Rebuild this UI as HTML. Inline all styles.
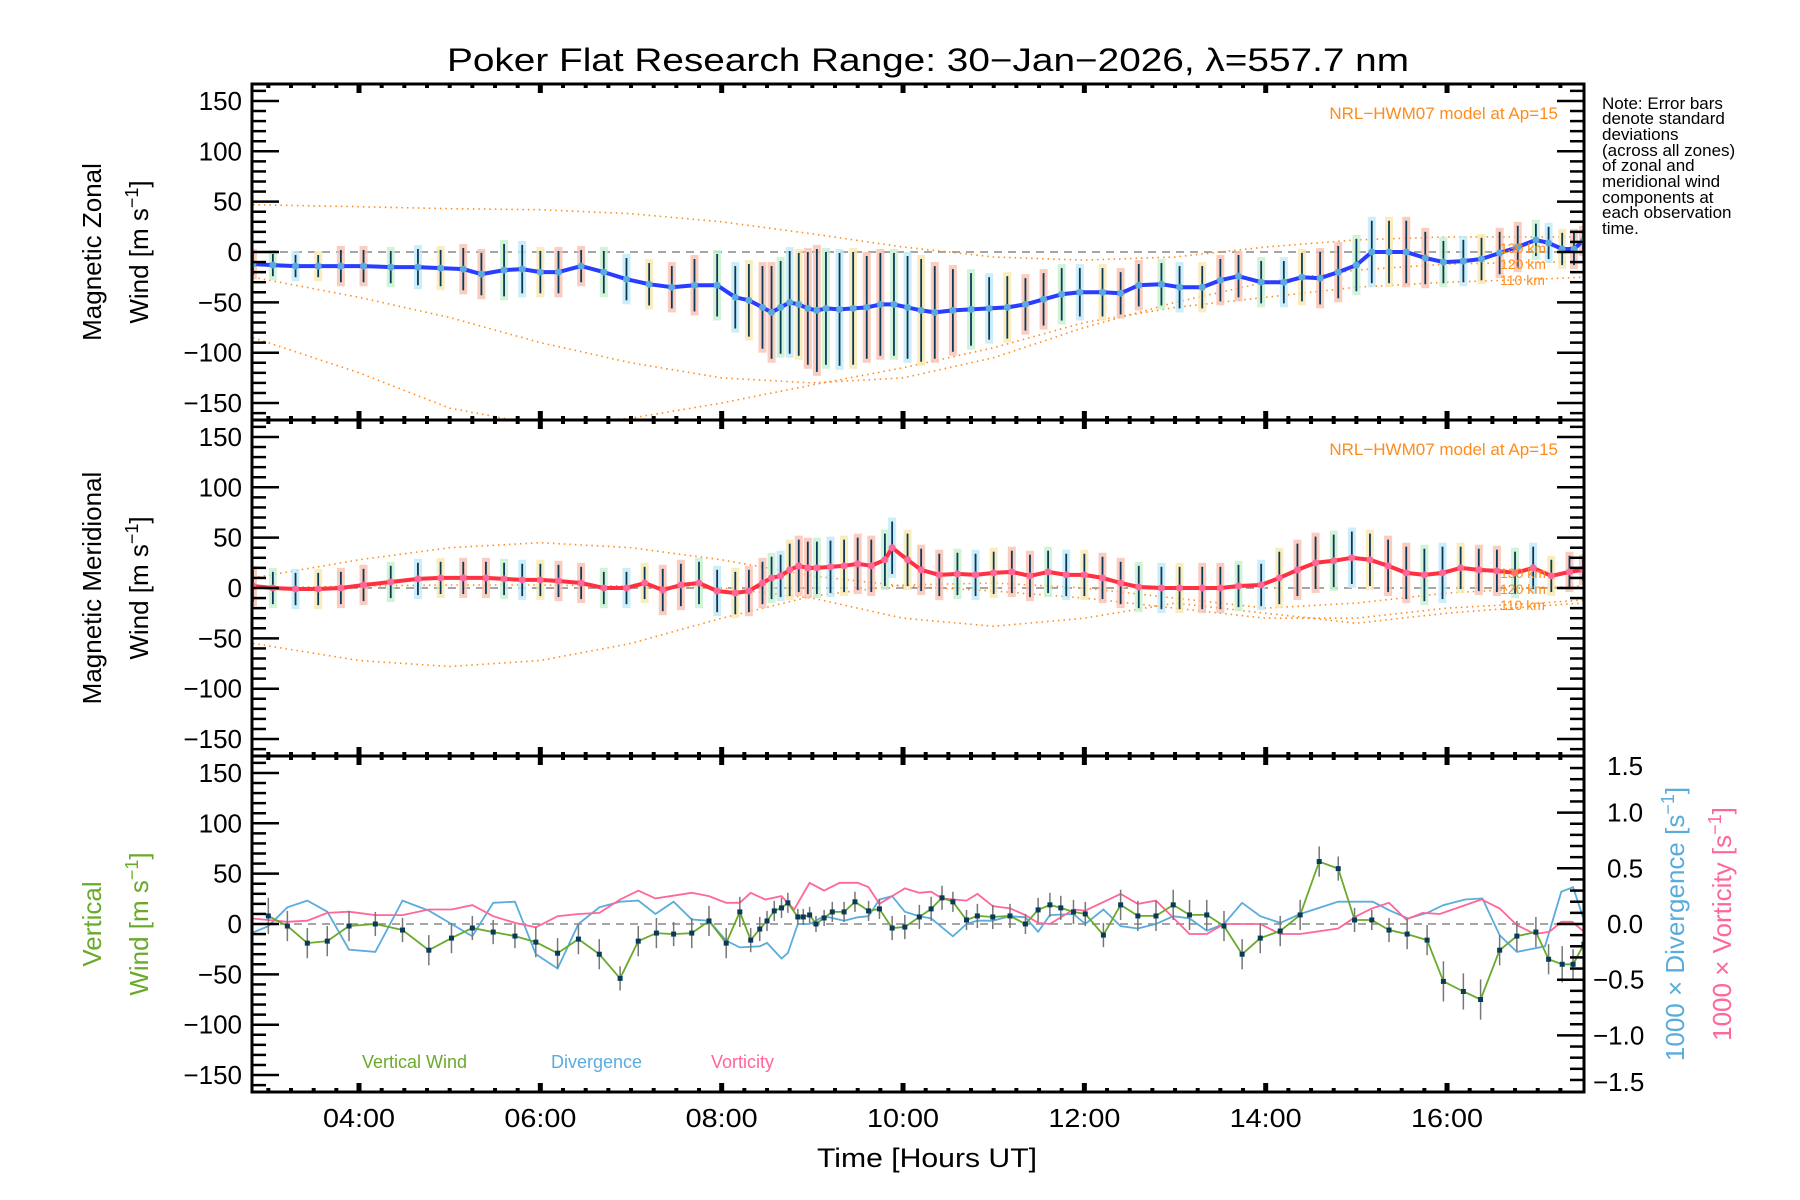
<!DOCTYPE html>
<html><head><meta charset="utf-8">
<style>
html,body{margin:0;padding:0;background:#fff;}
svg{display:block;font-family:"Liberation Sans",sans-serif;}
</style></head>
<body>
<svg id="chart" width="1800" height="1200" viewBox="0 0 1800 1200" xmlns="http://www.w3.org/2000/svg">
<rect x="0" y="0" width="1800" height="1200" fill="#fff"/>
<text x="447" y="71" font-size="32" textLength="962" lengthAdjust="spacingAndGlyphs" fill="#000">Poker Flat Research Range: 30−Jan−2026, λ=557.7 nm</text>
<g id="layer"></g>
<g font-size="17" fill="#000">
<text x="1602" y="109">Note: Error bars</text>
<text x="1602" y="124">denote standard</text>
<text x="1602" y="140">deviations</text>
<text x="1602" y="156">(across all zones)</text>
<text x="1602" y="171">of zonal and</text>
<text x="1602" y="187">meridional wind</text>
<text x="1602" y="203">components at</text>
<text x="1602" y="218">each observation</text>
<text x="1602" y="234">time.</text>
</g>
<text x="1558" y="119" font-size="17" fill="#ff8c1a" text-anchor="end">NRL−HWM07 model at Ap=15</text>
<text x="1558" y="455" font-size="17" fill="#ff8c1a" text-anchor="end">NRL−HWM07 model at Ap=15</text>
<g font-size="14" fill="#ff8c1a">
<text x="1500" y="253">130 km</text><text x="1500" y="269">120 km</text><text x="1500" y="285">110 km</text>
</g>
<g font-size="14" fill="#ff8c1a">
<text x="1500" y="578">130 km</text><text x="1500" y="594">120 km</text><text x="1500" y="610">110 km</text>
</g>
<g font-size="26" fill="#000" text-anchor="middle">
<text transform="translate(101,252) rotate(-90)">Magnetic Zonal</text>
<text transform="translate(148,252) rotate(-90)">Wind [m s<tspan dy="-10" font-size="18">−1</tspan><tspan dy="10">]</tspan></text>
</g>
<g font-size="26" fill="#000" text-anchor="middle">
<text transform="translate(101,588) rotate(-90)">Magnetic Meridional</text>
<text transform="translate(148,588) rotate(-90)">Wind [m s<tspan dy="-10" font-size="18">−1</tspan><tspan dy="10">]</tspan></text>
</g>
<g font-size="26" fill="#6aaa2a" text-anchor="middle">
<text transform="translate(101,924) rotate(-90)">Vertical</text>
<text transform="translate(148,924) rotate(-90)">Wind [m s<tspan dy="-10" font-size="18">−1</tspan><tspan dy="10">]</tspan></text>
</g>
<text transform="translate(1684,924) rotate(-90)" font-size="26" fill="#5aacdc" text-anchor="middle">1000 × Divergence [s<tspan dy="-10" font-size="18">−1</tspan><tspan dy="10">]</tspan></text>
<text transform="translate(1731,924) rotate(-90)" font-size="26" fill="#ff6699" text-anchor="middle">1000 × Vorticity [s<tspan dy="-10" font-size="18">−1</tspan><tspan dy="10">]</tspan></text>
<text x="817" y="1167" font-size="27" textLength="220" lengthAdjust="spacingAndGlyphs" fill="#000">Time [Hours UT]</text>
<text x="362" y="1068" font-size="18" fill="#6aaa2a">Vertical Wind</text>
<text x="551" y="1068" font-size="18" fill="#5aacdc">Divergence</text>
<text x="711" y="1068" font-size="18" fill="#ff6699">Vorticity</text>
</svg>
<script>
// ---- data ----
const zonalTimes=[2.83,3.05,3.3,3.55,3.8,4.05,4.35,4.65,4.9,5.15,5.35,5.6,5.8,6.0,6.2,6.45,6.7,6.95,7.2,7.45,7.7,7.95,8.15,8.3,8.45,8.55,8.65,8.75,8.85,8.95,9.05,9.15,9.3,9.45,9.6,9.75,9.9,10.05,10.2,10.35,10.55,10.75,10.95,11.15,11.35,11.55,11.75,11.95,12.2,12.4,12.6,12.85,13.05,13.3,13.5,13.7,13.95,14.2,14.4,14.6,14.8,15.0,15.17,15.36,15.55,15.76,15.96,16.18,16.38,16.58,16.78,16.98,17.12,17.27,17.4,17.5];
const zonalValues=[-12,-13,-14,-14,-14,-14,-15,-15,-16,-17,-22,-18,-17,-20,-20,-14,-20,-27,-32,-35,-33,-33,-45,-48,-55,-60,-55,-50,-52,-56,-58,-56,-57,-56,-55,-52,-52,-55,-58,-60,-58,-57,-56,-55,-52,-47,-42,-40,-40,-41,-33,-32,-35,-35,-28,-24,-30,-30,-25,-26,-20,-13,0,0,0,-6,-10,-9,-7,-1,5,12,9,3,3,11];
const zonalStd=[15,15,15,15,20,20,20,22,22,25,25,30,28,25,25,20,25,25,25,25,30,35,35,40,45,50,50,55,55,60,65,60,60,60,55,55,55,55,55,50,45,40,35,35,30,30,30,28,28,25,25,25,25,25,25,25,25,25,28,30,30,30,35,35,35,30,25,25,25,25,25,20,20,20,20,15];
const meridTimes=[2.83,3.05,3.3,3.55,3.8,4.05,4.35,4.65,4.9,5.15,5.4,5.6,5.8,6.0,6.2,6.45,6.7,6.95,7.15,7.35,7.55,7.75,7.95,8.15,8.3,8.45,8.55,8.65,8.75,8.85,8.95,9.05,9.2,9.35,9.5,9.65,9.8,9.88,10.05,10.2,10.4,10.6,10.8,11.0,11.2,11.4,11.6,11.8,12.0,12.2,12.4,12.6,12.85,13.05,13.3,13.5,13.7,13.95,14.15,14.35,14.55,14.75,14.95,15.15,15.35,15.55,15.75,15.95,16.15,16.35,16.55,16.75,16.95,17.15,17.35,17.5];
const meridValues=[2,0,-1,-1,0,3,6,9,10,10,10,9,8,8,7,5,0,0,5,-2,3,5,-3,-5,-3,5,10,12,18,22,20,20,21,22,24,22,28,40,28,18,13,14,13,15,16,12,16,13,13,10,5,1,0,0,0,0,2,3,10,18,25,27,30,28,22,15,13,15,20,18,17,15,20,12,16,18];
const meridStd=[20,20,20,20,20,20,20,20,20,20,20,20,20,20,20,20,20,20,20,25,25,25,25,25,25,25,25,25,30,30,30,30,30,30,30,30,30,30,30,25,25,25,25,25,25,25,25,25,25,25,25,25,25,25,25,25,25,25,30,30,30,30,30,30,30,30,30,30,25,25,25,25,25,20,20,15];
const modelTimes=[2.83,4,5,6,7,8,9,10,11,12,13,14,15,16,17,17.5];
const zonalModelA=[47,45,43,42,38,30,18,5,-5,-8,-5,5,12,15,15,15];
const zonalModelB=[-25,-45,-65,-90,-110,-125,-130,-125,-105,-75,-50,-30,-18,-12,-10,-10];
const zonalModelC=[-85,-120,-155,-172,-165,-150,-132,-115,-95,-70,-55,-45,-35,-30,-27,-25];
const meridModelA=[10,28,40,45,40,28,12,2,-3,-10,-20,-30,-30,-20,-15,-12];
const meridModelB=[-55,-72,-78,-72,-55,-30,-8,3,5,0,-10,-20,-15,-5,0,2];
const meridModelC=[0,2,3,3,2,0,-10,-30,-38,-30,-15,-25,-35,-25,-18,-15];
const vertTimes=[3.0,3.21,3.43,3.65,3.89,4.18,4.48,4.77,5.02,5.25,5.48,5.72,5.95,6.19,6.42,6.65,6.88,7.08,7.28,7.47,7.67,7.86,8.05,8.2,8.32,8.42,8.5,8.58,8.66,8.73,8.84,8.9,8.97,9.04,9.13,9.22,9.35,9.47,9.62,9.74,9.88,10.02,10.18,10.31,10.43,10.55,10.7,10.82,10.99,11.18,11.35,11.49,11.62,11.74,11.88,12.01,12.21,12.4,12.59,12.79,12.98,13.16,13.35,13.54,13.74,13.94,14.16,14.38,14.59,14.8,14.98,15.17,15.36,15.56,15.78,15.96,16.18,16.37,16.58,16.77,16.98,17.12,17.27,17.39,17.51];
const vertValues=[8,-2,-19,-17,-2,0,-6,-26,-14,-4,-8,-12,-18,-29,-15,-30,-54,-17,-9,-10,-9,3,-19,12,-16,-5,3,13,16,21,7,7,9,0,6,12,12,22,13,15,-4,-3,7,15,26,22,4,8,7,8,0,14,19,16,12,10,-11,19,8,8,19,9,9,-2,-30,-14,-7,9,62,55,4,4,-6,-10,-16,-57,-67,-75,-26,-12,-8,-35,-40,-40,-20];
const vertStd=[18,15,15,15,15,12,12,15,15,12,12,12,15,15,15,15,12,15,15,12,15,15,15,15,12,12,10,10,10,10,8,8,8,8,8,10,10,10,10,10,12,12,12,12,12,10,10,12,12,12,10,12,12,12,12,12,12,15,15,15,15,15,15,15,15,15,15,15,15,12,12,10,12,15,15,20,18,20,15,15,15,15,18,15,15];
const divTimes=[2.82,3.0,3.21,3.43,3.65,3.89,4.18,4.48,4.77,5.02,5.25,5.48,5.72,5.95,6.19,6.42,6.65,6.88,7.08,7.27,7.47,7.67,7.86,8.05,8.2,8.42,8.5,8.66,8.73,8.84,8.97,9.13,9.35,9.5,9.62,9.74,9.88,10.02,10.18,10.31,10.55,10.7,10.82,10.99,11.18,11.35,11.49,11.62,11.88,12.01,12.21,12.4,12.59,12.79,12.98,13.16,13.35,13.54,13.74,13.94,14.16,14.38,14.8,14.98,15.18,15.37,15.57,15.78,15.96,16.2,16.39,16.58,16.77,17.08,17.26,17.39,17.5];
const divValues=[-0.08,-0.02,0.15,0.21,0.11,-0.23,-0.25,0.21,0.12,0.0,-0.11,0.19,0.2,-0.27,-0.4,0.0,0.15,0.2,0.21,0.09,0.2,0.04,0.03,-0.15,-0.21,-0.2,-0.17,-0.31,-0.26,0.0,0.0,0.07,0.03,0.06,0.07,0.22,0.25,0.11,0.07,0.05,-0.11,0.0,0.03,0.03,0.07,0.06,-0.07,0.08,0.09,0.0,0.13,-0.02,-0.04,0.0,0.07,0.05,-0.06,0.0,0.19,0.07,0.01,0.09,0.2,0.2,0.2,0.12,0.05,0.1,0.17,0.22,0.23,-0.1,-0.25,-0.2,0.29,0.33,0.06];
const vortTimes=[2.82,3.21,3.43,3.65,3.89,4.18,4.48,4.77,5.02,5.25,5.48,5.72,5.95,6.19,6.42,6.65,6.88,7.08,7.27,7.67,7.86,8.05,8.2,8.32,8.48,8.66,8.8,8.97,9.13,9.3,9.5,9.62,9.74,10.02,10.18,10.31,10.43,10.7,10.82,10.99,11.18,11.35,11.49,11.62,11.88,12.01,12.4,12.59,12.79,13.16,13.35,13.54,13.94,14.16,14.38,14.8,15.0,15.17,15.36,15.55,15.73,15.92,16.2,16.38,16.58,16.77,16.97,17.13,17.26,17.38,17.51];
const vortValues=[0.05,0.02,0.03,0.1,0.11,0.08,0.08,0.13,0.13,0.17,0.07,0.01,-0.03,0.07,0.09,0.1,0.22,0.3,0.23,0.28,0.25,0.19,0.19,0.28,0.22,0.25,0.13,0.37,0.3,0.37,0.37,0.33,0.18,0.32,0.28,0.29,0.23,0.21,0.27,0.16,0.14,0.08,0.01,0.0,0.13,0.12,0.27,0.18,0.21,-0.09,-0.09,0.0,0.0,-0.09,-0.09,-0.04,0.07,0.14,0.19,0.04,0.1,0.09,0.17,0.22,0.14,-0.01,-0.09,-0.07,0.02,0.02,-0.07];
const xTickLabels=["04:00","06:00","08:00","10:00","12:00","14:00","16:00"];
const xTickHours=[4,6,8,10,12,14,16];
const yTickValues=[150,100,50,0,-50,-100,-150];
const rTickValues=[1.5,1.0,0.5,0.0,-0.5,-1.0,-1.5];

// ---- scales ----
const X0=252,X1=1584;
const panels=[{top:84,bot:420,zero:252},{top:420,bot:756,zero:588},{top:756,bot:1092,zero:924}];
function xs(t){return 359+(t-4)*90.67;}
function ys(v,p){return panels[p].zero-v*1.007;}
function yr(v){return 924-v*111.4;}

const NS='http://www.w3.org/2000/svg';
const layer=document.getElementById('layer');
function mk(tag,attrs,parent){const e=document.createElementNS(NS,tag);for(const k in attrs)e.setAttribute(k,attrs[k]);(parent||layer).appendChild(e);return e;}

const defs=mk('defs',{});
panels.forEach((p,i)=>{const c=mk('clipPath',{id:'clip'+i},defs);mk('rect',{x:X0,y:p.top,width:X1-X0,height:p.bot-p.top},c);});

function dashedZero(p,g){const l=mk('line',{x1:X0,x2:X1,y1:ys(0,p),y2:ys(0,p),stroke:'#888','stroke-width':1.5,'stroke-dasharray':'8,6'},g);}

function modelLine(times,vals,p,g,name){
  let d='';times.forEach((t,i)=>{d+=(i?'L':'M')+xs(t).toFixed(1)+','+ys(vals[i],p).toFixed(1);});
  const e=mk('path',{d:d,fill:'none',stroke:'#ff8c1a','stroke-width':1.6,'stroke-dasharray':'1.5,4'},g);
  
  
}
const pale=['#f9c0b0','#c8f0d0','#c0e8f8','#f8e8b0','#f9c0b0'];
function windSeries(times,vals,std,p,lineColor,dotColor,name){
  const g=mk('g',{'clip-path':'url(#clip'+p+')'});
  
  
  times.forEach((t,i)=>{
    const x=xs(t),hi=ys(vals[i]+std[i],p),lo=ys(vals[i]-std[i],p);
    const r=mk('rect',{x:x-4,y:hi,width:8,height:lo-hi,fill:pale[i%5],opacity:0.8},g);
    
    
    const b=mk('line',{x1:x,x2:x,y1:hi+4,y2:lo-4,stroke:'#0a3a5a','stroke-width':1.8},g);
    
    
  });
  let d='';times.forEach((t,i)=>{d+=(i?'L':'M')+xs(t).toFixed(1)+','+ys(vals[i],p).toFixed(1);});
  const l=mk('path',{d:d,fill:'none',stroke:lineColor,'stroke-width':4,'stroke-linejoin':'round'},g);
  
  
  times.forEach((t,i)=>{
    const c=mk('circle',{cx:xs(t),cy:ys(vals[i],p),r:3.5,fill:dotColor},g);
    
    
  });
}

const g1=mk('g',{'clip-path':'url(#clip0)'});
dashedZero(0,g1);
modelLine(modelTimes,zonalModelA,0,g1,'zonal-model-130km');
modelLine(modelTimes,zonalModelB,0,g1,'zonal-model-120km');
modelLine(modelTimes,zonalModelC,0,g1,'zonal-model-110km');
windSeries(zonalTimes,zonalValues,zonalStd,0,'#2a3cff','#5aaadd','zonal-wind');
const g2=mk('g',{'clip-path':'url(#clip1)'});
dashedZero(1,g2);
modelLine(modelTimes,meridModelA,1,g2,'meridional-model-130km');
modelLine(modelTimes,meridModelB,1,g2,'meridional-model-120km');
modelLine(modelTimes,meridModelC,1,g2,'meridional-model-110km');
windSeries(meridTimes,meridValues,meridStd,1,'#ff3040','#ff6699','meridional-wind');
const g3=mk('g',{'clip-path':'url(#clip2)'});
dashedZero(2,g3);
function rline(times,vals,color,name){
  let d='';times.forEach((t,i)=>{d+=(i?'L':'M')+xs(t).toFixed(1)+','+yr(vals[i]).toFixed(1);});
  const e=mk('path',{d:d,fill:'none',stroke:color,'stroke-width':1.8},g3);
  
  
}
rline(divTimes,divValues,'#5aacdc','divergence-line');
rline(vortTimes,vortValues,'#ff6699','vorticity-line');
vertTimes.forEach((t,i)=>{
  const e=mk('line',{x1:xs(t),x2:xs(t),y1:ys(vertValues[i]+vertStd[i],2),y2:ys(vertValues[i]-vertStd[i],2),stroke:'#777','stroke-width':1.5},g3);
  
  
});
{let d='';vertTimes.forEach((t,i)=>{d+=(i?'L':'M')+xs(t).toFixed(1)+','+ys(vertValues[i],2).toFixed(1);});
const e=mk('path',{d:d,fill:'none',stroke:'#6aaa2a','stroke-width':1.8},g3);

}
vertTimes.forEach((t,i)=>{
  const e=mk('rect',{x:xs(t)-2.5,y:ys(vertValues[i],2)-2.5,width:5,height:5,fill:'#0a3a5a'},g3);
  
  
});

const ax=mk('g',{stroke:'#000',fill:'none'});


panels.forEach((p,pi)=>{
  mk('rect',{x:X0,y:p.top,width:X1-X0,height:p.bot-p.top,'stroke-width':3},ax);
  for(let v=-160;v<=160;v+=10){
    const y=ys(v,pi); if(y<p.top+2||y>p.bot-2)continue;
    const len=(v%50===0)?27:14;
    mk('line',{x1:X0,x2:X0+len,y1:y,y2:y,'stroke-width':2.5},ax);
    if(pi<2) mk('line',{x1:X1,x2:X1-len,y1:y,y2:y,'stroke-width':2.5},ax);
  }
  for(let m=0;m<=15*4*4;m++){
    const t=2.75+m*0.25; const x=xs(t); if(x<X0+3||x>X1-3)continue;
    const major=Math.abs((t%2))<0.001;
    const len=major?9:4;
    mk('line',{x1:x,x2:x,y1:p.top,y2:p.top+len,'stroke-width':major?5:4},ax);
    mk('line',{x1:x,x2:x,y1:p.bot,y2:p.bot-len,'stroke-width':major?5:4},ax);
  }
  const tl=mk('g',{stroke:'none',fill:'#000','font-size':26,'text-anchor':'end'});
  
  
  yTickValues.forEach(v=>{const t=mk('text',{x:242,y:ys(v,pi)+9},tl);t.textContent=String(v).replace('-','−');});
});
for(let k=-15;k<=15;k++){
  const v=k/10,y=yr(v); if(y<758||y>1090)continue;
  const len=(k%5===0)?27:14;
  mk('line',{x1:X1,x2:X1-len,y1:y,y2:y,'stroke-width':2.5},ax);
}
const rl=mk('g',{fill:'#000','font-size':26});


rTickValues.forEach(v=>{let y=yr(v)+9;if(v===1.5)y+=9;if(v===-1.5)y-=9;const t=mk('text',{x:v<0?1593:1607,y:y},rl);t.textContent=(v<0?'−':'')+Math.abs(v).toFixed(1);});
const xl=mk('g',{fill:'#000','font-size':26});


xTickHours.forEach((h,i)=>{const t=mk('text',{x:xs(h)-36,y:1127,textLength:72,lengthAdjust:'spacingAndGlyphs'},xl);t.textContent=xTickLabels[i];});
</script>
</body></html>
